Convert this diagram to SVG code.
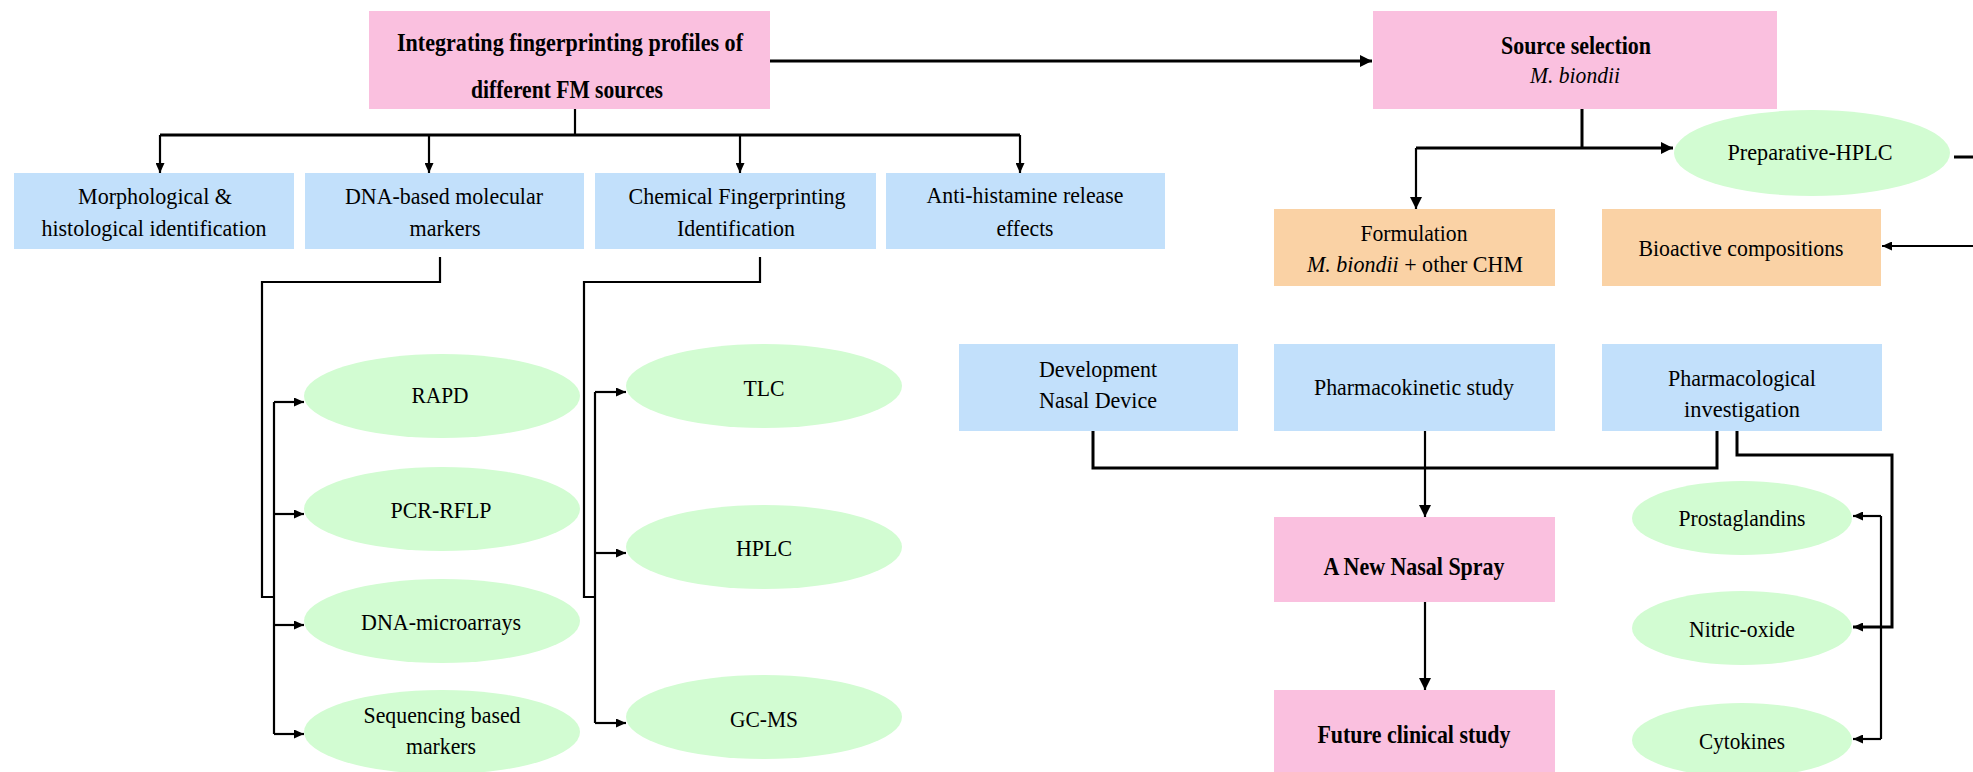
<svg xmlns="http://www.w3.org/2000/svg" width="1973" height="772" viewBox="0 0 1973 772">
  <style>
    .pink { fill: #FAC0DF; }
    .blue { fill: #C2E0FB; }
    .green { fill: #D2FCD2; }
    .orange { fill: #FAD2A5; }
    text { font-family: "Liberation Serif", "Times New Roman", serif; font-size: 24px; fill: #000; text-anchor: middle; }
    .b { font-weight: bold; font-size: 25px; }
    .i { font-style: italic; }
    .line { fill: none; stroke: #000; stroke-width: 2.2; }
    .thick { fill: none; stroke: #000; stroke-width: 3; }
  </style>
  <defs>
    <marker id="arr" markerUnits="userSpaceOnUse" markerWidth="10" markerHeight="9" refX="10" refY="4.5" orient="auto">
      <path d="M0,0 L10,4.5 L0,9 z" fill="#000"/>
    </marker>
    <marker id="arrL" markerUnits="userSpaceOnUse" markerWidth="12" markerHeight="12" refX="12" refY="6" orient="auto">
      <path d="M0,0 L12,6 L0,12 z" fill="#000"/>
    </marker>
  </defs>

  <!-- connectors -->
  <g id="connectors">
    <path class="thick" d="M770,61 H1372" marker-end="url(#arrL)"/>
    <path class="line" d="M575,109 V135"/>
    <path class="thick" d="M160,135 H1020"/>
    <path class="line" d="M160,135 V173" marker-end="url(#arr)"/>
    <path class="line" d="M429,135 V173" marker-end="url(#arr)"/>
    <path class="line" d="M740,135 V173" marker-end="url(#arr)"/>
    <path class="line" d="M1020,135 V173" marker-end="url(#arr)"/>

    <!-- molecular markers branch -->
    <path class="line" d="M440,257 V282 H262 V597 H274"/>
    <path class="line" d="M274,402 V734"/>
    <path class="line" d="M274,402 H304" marker-end="url(#arr)"/>
    <path class="line" d="M274,514 H304" marker-end="url(#arr)"/>
    <path class="line" d="M274,625 H304" marker-end="url(#arr)"/>
    <path class="line" d="M274,734 H304" marker-end="url(#arr)"/>

    <!-- chemical fingerprint branch -->
    <path class="line" d="M760,257 V282 H584 V597 H595"/>
    <path class="line" d="M595,392 V723"/>
    <path class="line" d="M595,392 H626" marker-end="url(#arr)"/>
    <path class="line" d="M595,553 H626" marker-end="url(#arr)"/>
    <path class="line" d="M595,723 H626" marker-end="url(#arr)"/>

    <!-- source selection branch -->
    <path class="thick" d="M1582,109 V148"/>
    <path class="thick" d="M1416,148 H1673" marker-end="url(#arrL)"/>
    <path class="line" d="M1416,148 V209" marker-end="url(#arrL)"/>
    <path class="thick" d="M1954,157 H1995 V246"/>
    <path class="line" d="M1995,246 H1882" marker-end="url(#arr)"/>

    <!-- studies to spray -->
    <path class="thick" d="M1093,431 V468 H1717 V431"/>
    <path class="line" d="M1425,431 V517" marker-end="url(#arrL)"/>
    <path class="line" d="M1425,602 V690" marker-end="url(#arrL)"/>

    <!-- pharmacological targets -->
    <path class="thick" d="M1737,431 V455 H1892 V627 H1853" marker-end="url(#arr)"/>
    <path class="line" d="M1881,516 V739"/>
    <path class="line" d="M1881,516 H1853" marker-end="url(#arr)"/>
    <path class="line" d="M1881,739 H1853" marker-end="url(#arr)"/>
  </g>

  <!-- top row -->
  <g id="integrating">
    <rect class="pink" x="369" y="11" width="401" height="98"/>
    <text class="b" x="570" y="51" textLength="346" lengthAdjust="spacingAndGlyphs">Integrating fingerprinting profiles of</text>
    <text class="b" x="567" y="98" textLength="192" lengthAdjust="spacingAndGlyphs">different FM sources</text>
  </g>
  <g id="source">
    <rect class="pink" x="1373" y="11" width="404" height="98"/>
    <text class="b" x="1576" y="54" textLength="150" lengthAdjust="spacingAndGlyphs">Source selection</text>
    <text class="i" x="1575" y="83" textLength="90" lengthAdjust="spacingAndGlyphs">M. biondii</text>
  </g>

  <!-- identification methods -->
  <g id="morphological">
    <rect class="blue" x="14" y="173" width="280" height="76"/>
    <text x="155" y="204" textLength="154" lengthAdjust="spacingAndGlyphs">Morphological &amp;</text>
    <text x="154" y="236" textLength="225" lengthAdjust="spacingAndGlyphs">histological identification</text>
  </g>
  <g id="dna">
    <rect class="blue" x="305" y="173" width="279" height="76"/>
    <text x="444" y="204" textLength="198" lengthAdjust="spacingAndGlyphs">DNA-based molecular</text>
    <text x="445" y="236" textLength="71" lengthAdjust="spacingAndGlyphs">markers</text>
  </g>
  <g id="chemical">
    <rect class="blue" x="595" y="173" width="281" height="76"/>
    <text x="737" y="204" textLength="217" lengthAdjust="spacingAndGlyphs">Chemical Fingerprinting</text>
    <text x="736" y="236" textLength="118" lengthAdjust="spacingAndGlyphs">Identification</text>
  </g>
  <g id="antihistamine">
    <rect class="blue" x="886" y="173" width="279" height="76"/>
    <text x="1025" y="203" textLength="197" lengthAdjust="spacingAndGlyphs">Anti-histamine release</text>
    <text x="1025" y="236" textLength="57" lengthAdjust="spacingAndGlyphs">effects</text>
  </g>

  <!-- molecular markers -->
  <g id="rapd">
    <ellipse class="green" cx="442" cy="396" rx="138" ry="42"/>
    <text x="440" y="403" textLength="57" lengthAdjust="spacingAndGlyphs">RAPD</text>
  </g>
  <g id="pcr">
    <ellipse class="green" cx="442" cy="509" rx="138" ry="42"/>
    <text x="441" y="518" textLength="101" lengthAdjust="spacingAndGlyphs">PCR-RFLP</text>
  </g>
  <g id="microarrays">
    <ellipse class="green" cx="442" cy="621" rx="138" ry="42"/>
    <text x="441" y="630" textLength="160" lengthAdjust="spacingAndGlyphs">DNA-microarrays</text>
  </g>
  <g id="sequencing">
    <ellipse class="green" cx="442" cy="732" rx="138" ry="42"/>
    <text x="442" y="723" textLength="157" lengthAdjust="spacingAndGlyphs">Sequencing based</text>
    <text x="441" y="754" textLength="70" lengthAdjust="spacingAndGlyphs">markers</text>
  </g>

  <!-- chemical fingerprints -->
  <g id="tlc">
    <ellipse class="green" cx="764" cy="386" rx="138" ry="42"/>
    <text x="764" y="396" textLength="41" lengthAdjust="spacingAndGlyphs">TLC</text>
  </g>
  <g id="hplc">
    <ellipse class="green" cx="764" cy="547" rx="138" ry="42"/>
    <text x="764" y="556" textLength="56" lengthAdjust="spacingAndGlyphs">HPLC</text>
  </g>
  <g id="gcms">
    <ellipse class="green" cx="764" cy="717" rx="138" ry="42"/>
    <text x="764" y="727" textLength="68" lengthAdjust="spacingAndGlyphs">GC-MS</text>
  </g>

  <!-- source branch -->
  <g id="preparative-hplc">
    <ellipse class="green" cx="1812" cy="153" rx="138" ry="43"/>
    <text x="1810" y="160" textLength="165" lengthAdjust="spacingAndGlyphs">Preparative-HPLC</text>
  </g>
  <g id="formulation">
    <rect class="orange" x="1274" y="209" width="281" height="77"/>
    <text x="1414" y="241" textLength="107" lengthAdjust="spacingAndGlyphs">Formulation</text>
    <text x="1415" y="272" textLength="216" lengthAdjust="spacingAndGlyphs"><tspan class="i">M. biondii</tspan> + other CHM</text>
  </g>
  <g id="bioactive">
    <rect class="orange" x="1602" y="209" width="279" height="77"/>
    <text x="1741" y="256" textLength="205" lengthAdjust="spacingAndGlyphs">Bioactive compositions</text>
  </g>

  <!-- studies -->
  <g id="device">
    <rect class="blue" x="959" y="344" width="279" height="87"/>
    <text x="1098" y="377" textLength="118" lengthAdjust="spacingAndGlyphs">Development</text>
    <text x="1098" y="408" textLength="118" lengthAdjust="spacingAndGlyphs">Nasal Device</text>
  </g>
  <g id="pharmacokinetic">
    <rect class="blue" x="1274" y="344" width="281" height="87"/>
    <text x="1414" y="395" textLength="200" lengthAdjust="spacingAndGlyphs">Pharmacokinetic study</text>
  </g>
  <g id="pharmacological">
    <rect class="blue" x="1602" y="344" width="280" height="87"/>
    <text x="1742" y="386" textLength="148" lengthAdjust="spacingAndGlyphs">Pharmacological</text>
    <text x="1742" y="417" textLength="116" lengthAdjust="spacingAndGlyphs">investigation</text>
  </g>

  <!-- outcomes -->
  <g id="nasal-spray">
    <rect class="pink" x="1274" y="517" width="281" height="85"/>
    <text class="b" x="1414" y="575" textLength="181" lengthAdjust="spacingAndGlyphs">A New Nasal Spray</text>
  </g>
  <g id="clinical">
    <rect class="pink" x="1274" y="690" width="281" height="82"/>
    <text class="b" x="1414" y="743" textLength="193" lengthAdjust="spacingAndGlyphs">Future clinical study</text>
  </g>

  <!-- mediators -->
  <g id="prostaglandins">
    <ellipse class="green" cx="1742" cy="518" rx="110" ry="37"/>
    <text x="1742" y="526" textLength="127" lengthAdjust="spacingAndGlyphs">Prostaglandins</text>
  </g>
  <g id="nitric-oxide">
    <ellipse class="green" cx="1742" cy="628" rx="110" ry="37"/>
    <text x="1742" y="637" textLength="106" lengthAdjust="spacingAndGlyphs">Nitric-oxide</text>
  </g>
  <g id="cytokines">
    <ellipse class="green" cx="1742" cy="740" rx="110" ry="37"/>
    <text x="1742" y="749" textLength="86" lengthAdjust="spacingAndGlyphs">Cytokines</text>
  </g>
</svg>
